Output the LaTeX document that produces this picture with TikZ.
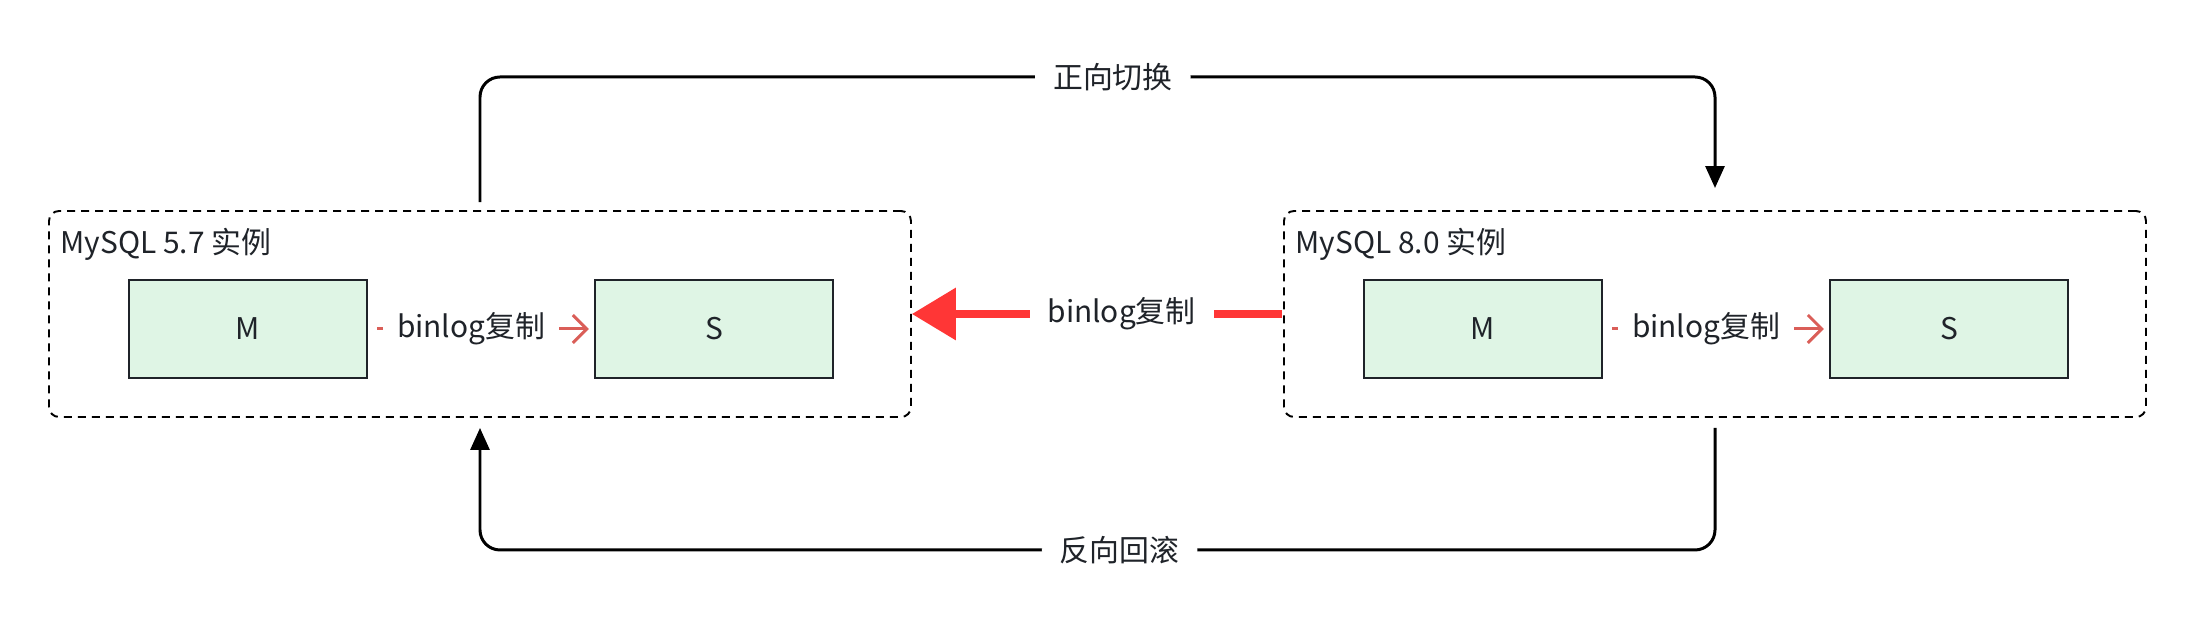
\documentclass[tikz,border=0pt]{standalone}
\usepackage{fontspec}
\setmainfont{Noto Sans CJK SC}
\usepackage{xcolor}
\usetikzlibrary{arrows.meta}
\definecolor{boxGreen}{HTML}{DFF5E5}
\definecolor{inkText}{HTML}{1F2329}
\definecolor{copyRed}{HTML}{FF3636}
\definecolor{lightRed}{HTML}{DA5E58}
\tikzset{
group/.style = {rectangle, draw=black, dash pattern=on 0.08cm off 0.06cm,
                rounded corners=0.1cm, line width=0.55pt,
                minimum width=8.62cm, minimum height=2.06cm},
}
\tikzset{
box/.style = {rectangle, draw=inkText, fill=boxGreen, line width=0.6pt,
              minimum width=#1, minimum height=0.98cm},
box/.default = 2.38cm % width of the instance box
}
\tikzset{
lbl/.style = {fill=white, inner xsep=0.18cm, inner ysep=1pt, text=inkText},
flow/.style = {draw=black, line width=0.85pt, rounded corners=0.2cm},
repl/.style = {draw=lightRed, line width=0.85pt}
}

\begin{document}
\begin{tikzpicture}[every node/.style={font=\fontsize{8.5pt}{10pt}\selectfont, text=inkText}]
\useasboundingbox (0,0) rectangle (21.96,6.30);

\node[group] (g57) at (4.80,3.16) {};
\node[group] (g80) at (17.15,3.16) {};
\node[anchor=west, inner sep=0pt] (t57) at (0.60,3.86) {MySQL 5.7 实例};
\node[anchor=west, inner sep=0pt] (t80) at (12.95,3.86) {MySQL 8.0 实例};
\node[box] (m57) at (2.48,3.01) {M};
\node[box] (s57) at (7.14,3.01) {S};
\node[box] (m80) at (14.83,3.01) {M};
\node[box] (s80) at (19.49,3.01) {S};
\coordinate (topL) at (4.80,5.53);
\coordinate (topR) at (17.15,5.53);
\coordinate (botR) at (17.15,0.80);
\coordinate (botL) at (4.80,0.80);

\draw[repl, shorten <=0.09cm, shorten >=0.05cm, -{Straight Barb[length=0.14cm, width=0.28cm]}]
  (m57) -- node[lbl, inner xsep=0.14cm, pos=0.456]{binlog复制} (s57);
\draw[repl, shorten <=0.09cm, shorten >=0.05cm, -{Straight Barb[length=0.14cm, width=0.28cm]}]
  (m80) -- node[lbl, inner xsep=0.14cm, pos=0.456]{binlog复制} (s80);
\draw[copyRed, line width=2pt, shorten <=0.01cm, -{Triangle[length=0.44cm, width=0.51cm]}]
  (g80.west) -- node[lbl, pos=0.435]{binlog复制} (g57.east);
\draw[flow, shorten <=0.08cm, shorten >=0.22cm, -{Triangle[length=0.22cm, width=0.19cm]}]
  (g57.north) -- (topL) -- node[lbl, pos=0.5125]{正向切换} (topR) -- (g80.north);
\draw[flow, shorten <=0.10cm, shorten >=0.10cm, -{Triangle[length=0.22cm, width=0.19cm]}]
  (g80.south) -- (botR) -- node[lbl, pos=0.482]{反向回滚} (botL) -- (g57.south);
\end{tikzpicture}
\end{document}
